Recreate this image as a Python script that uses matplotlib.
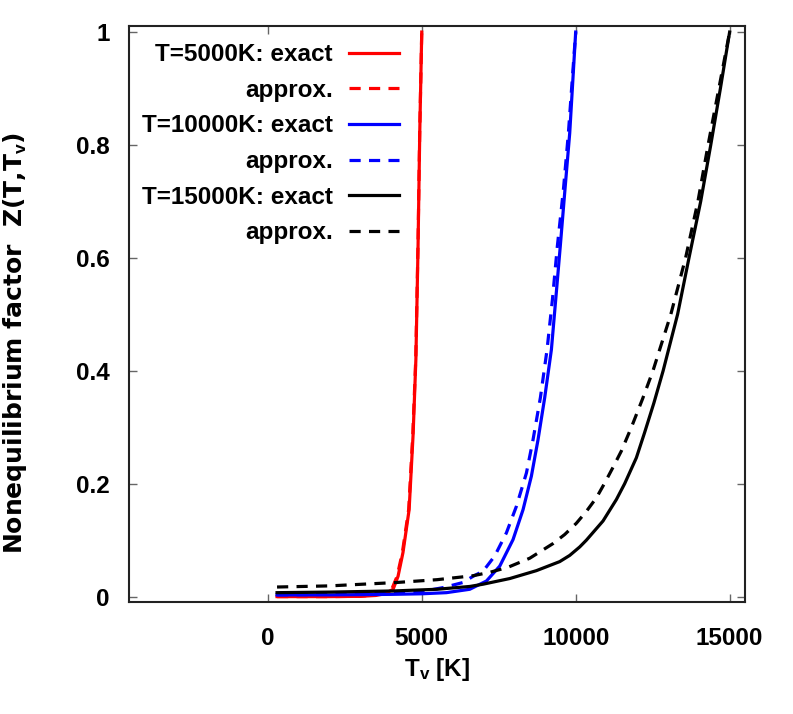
import numpy as np
import matplotlib
matplotlib.use("Agg")
import matplotlib.pyplot as plt

plt.rcParams['font.family'] = ['Liberation Sans', 'DejaVu Sans']
plt.rcParams['font.weight'] = 'bold'
plt.rcParams['axes.labelweight'] = 'bold'
plt.rcParams['mathtext.fontset'] = 'custom'
plt.rcParams['mathtext.rm'] = 'Liberation Sans:bold'
plt.rcParams['mathtext.it'] = 'Liberation Sans:bold'
plt.rcParams['mathtext.bf'] = 'Liberation Sans:bold'

# values
tv_5000_exact = [300, 1000, 2000, 3000, 3500, 3800, 4070, 4230, 4390, 4590, 4720, 4810, 4880, 4935, 5000]
z_5000_exact = [0.0, 0.0, 0.0, 0.0005, 0.002, 0.005, 0.013, 0.036, 0.078, 0.154, 0.288, 0.421, 0.621, 0.821, 1.0]
tv_5000_approx = [300, 1000, 2000, 3000, 3500, 3800, 4040, 4200, 4370, 4575, 4710, 4805, 4877, 4933, 5000]
z_5000_approx = [0.0, 0.0, 0.0, 0.0006, 0.003, 0.007, 0.015, 0.036, 0.078, 0.154, 0.288, 0.421, 0.621, 0.821, 1.0]

tv_10000_exact = [300, 2000, 4000, 5000, 5800, 6559, 7101, 7533, 7965, 8290, 8561, 8777, 8994,
                  9211, 9351, 9500, 9650, 9806, 10000]
z_10000_exact = [0.003, 0.003, 0.004, 0.005, 0.007, 0.013, 0.0276, 0.054, 0.101, 0.154, 0.2134, 0.278,
                 0.3526, 0.4375, 0.526, 0.621, 0.72, 0.821, 1.0]
tv_10000_approx = [300, 2000, 4000, 5000, 5700, 6340, 6667, 6992, 7371, 7750, 8075, 8400, 8615, 8854,
                   9070, 9244, 9405, 9600, 9763, 10000]
z_10000_approx = [0.003, 0.004, 0.006, 0.009, 0.016, 0.025, 0.036, 0.045, 0.072, 0.113, 0.160, 0.219,
                  0.278, 0.3526, 0.4375, 0.526, 0.621, 0.72, 0.821, 1.0]

tv_15000_exact = [300, 2000, 4070, 5500, 6560, 6992, 7858, 8724, 9481, 9806, 10131, 10347, 10888, 11322,
                  11590, 11971, 12235, 12540, 12840, 13310, 13680, 14060, 14387, 14700, 15000]
z_15000_exact = [0.007, 0.008, 0.010, 0.013, 0.018, 0.022, 0.032, 0.046, 0.062, 0.073, 0.088, 0.1, 0.134, 0.172,
                 0.2, 0.246, 0.29, 0.343, 0.4, 0.5, 0.6, 0.7, 0.8, 0.9, 1.0]
tv_15000_approx = [300, 2000, 4180, 5500, 6667, 7208, 7803, 8508, 9265, 9643, 10023, 10347, 10672, 10930,
                   11212, 11484, 11810, 12170, 12510, 13090, 13570, 13970, 14300, 14650, 15000]
z_15000_approx = [0.017, 0.019, 0.025, 0.030, 0.037, 0.043, 0.052, 0.068, 0.094, 0.11, 0.13, 0.151, 0.175, 0.2,
                  0.229, 0.258, 0.3, 0.35, 0.4, 0.5, 0.6, 0.7, 0.8, 0.9, 1.0]

x_ticks = [0, 5000, 10000, 15000]
y_ticks = [0, 0.2, 0.4, 0.6, 0.8, 1.0]

fs = 17.5

fig = plt.figure(figsize=(7.93, 7.14), dpi=100)
fig.subplots_adjust(left=0.163, right=0.9395, top=0.963, bottom=0.1565)
ax = fig.add_subplot(111)

lw = 2.3
dash = (0, (3.5, 2.6))
ax.plot(tv_5000_exact, z_5000_exact, color='#ff0000', lw=lw, label='T=5000K: exact')
ax.plot(tv_5000_approx, z_5000_approx, color='#ff0000', lw=lw, ls=dash, label='approx.')
ax.plot(tv_10000_exact, z_10000_exact, color='#0000ff', lw=lw, label='T=10000K: exact')
ax.plot(tv_10000_approx, z_10000_approx, color='#0000ff', lw=lw, ls=dash, label='approx.')
ax.plot(tv_15000_exact, z_15000_exact, color='black', lw=lw, label='T=15000K: exact')
ax.plot(tv_15000_approx, z_15000_approx, color='black', lw=lw, ls=dash, label='approx.')

ax.set_xlim(-4500, 15500)
ax.set_ylim(-0.01, 1.01)
ax.set_xticks(x_ticks)
ax.set_yticks(y_ticks)
ax.set_yticklabels(['%g' % v for v in y_ticks])
ax.tick_params(direction='in', top=True, right=True, length=6, width=1,
               color='#666666', labelsize=fs, pad=14)
ax.tick_params(axis='x', pad=18)
for s in ax.spines.values():
    s.set_linewidth(1.5)
    s.set_color('#222222')

ax.set_xlabel('T$_\\mathrm{v}$ [K]', fontsize=fs, labelpad=4)
ax.set_ylabel('Nonequilibrium factor  Z(T,T$_\\mathrm{v}$)', fontsize=18,
              family=['DejaVu Sans'], fontweight='bold')
ax.yaxis.set_label_coords(-0.163, 0.45)

leg = ax.legend(loc='upper right', markerfirst=False, frameon=False, fontsize=fs,
                handlelength=2.06, handletextpad=0.66, labelspacing=0.52,
                bbox_to_anchor=(0.438, 0.971), borderaxespad=0.0, borderpad=0.0)

plt.savefig('out.png', dpi=100)
